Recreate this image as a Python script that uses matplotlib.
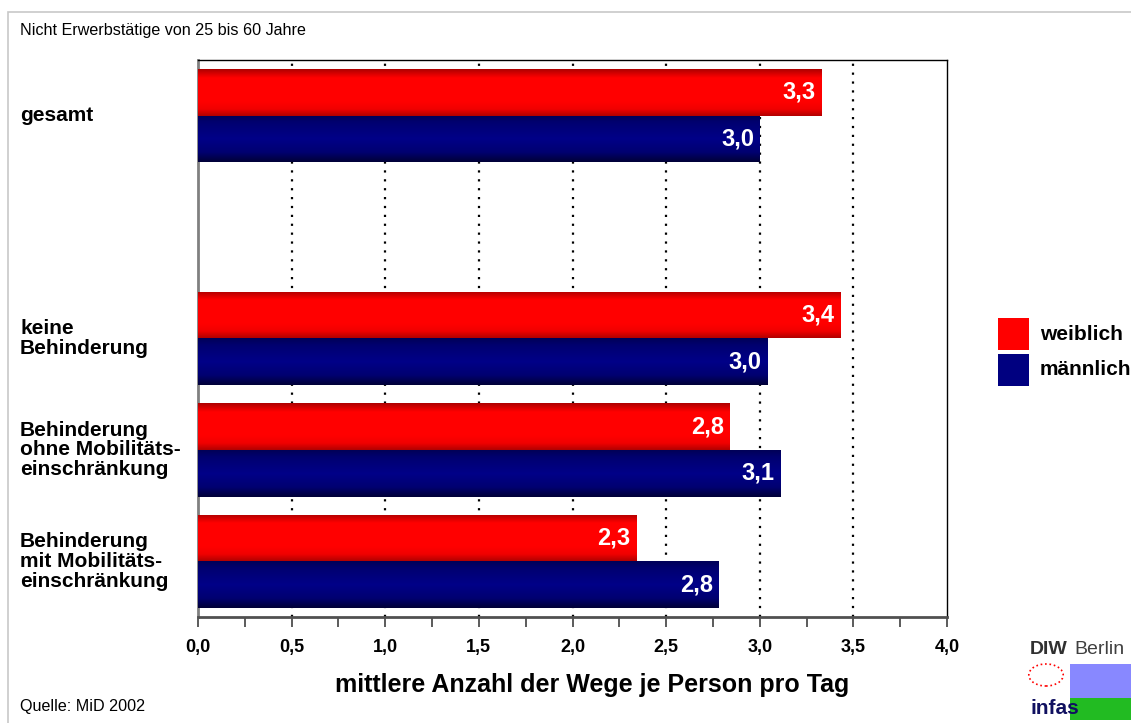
import numpy as np
import matplotlib
matplotlib.use("Agg")
import matplotlib.pyplot as plt
from matplotlib.colors import LinearSegmentedColormap
from matplotlib.patches import Rectangle

# --- data ---
categories = ["gesamt", "keine\nBehinderung", "Behinderung\nohne Mobilitäts-\neinschränkung",
              "Behinderung\nmit Mobilitäts-\neinschränkung"]
weiblich = [3.33, 3.43, 2.84, 2.34]
maennlich = [3.00, 3.04, 3.11, 2.78]
series_names = ["weiblich", "männlich"]
xticks = [0.0, 0.5, 1.0, 1.5, 2.0, 2.5, 3.0, 3.5, 4.0]
subtitle = "Nicht Erwerbstätige von 25 bis 60 Jahre"
source = "Quelle: MiD 2002"
xlabel = "mittlere Anzahl der Wege je Person pro Tag"

FONT = ["Liberation Sans", "DejaVu Sans"]
plt.rcParams["font.family"] = FONT

RED = "#ff0000"
BLUE = "#000080"
red_cmap = LinearSegmentedColormap.from_list(
    "red3d", [(0, "#b40000"), (0.14, "#f00000"), (0.3, "#ff0000"), (0.82, "#ff0000"), (1, "#b00000")])
blue_cmap = LinearSegmentedColormap.from_list(
    "blue3d", [(0, "#000038"), (0.2, "#000070"), (0.5, "#000088"), (0.85, "#000070"), (1, "#000058")])

W, H = 1131, 723
fig = plt.figure(figsize=(W / 100, H / 100), dpi=100)

# outer frame
fig.patches.append(Rectangle((8 / W, -0.02), 1.05, 1 - 12 / H + 0.02, transform=fig.transFigure,
                             fill=False, edgecolor="#c8c8c8", linewidth=1.2))

ax = fig.add_axes([198 / W, 1 - 617 / H, 749 / W, 557 / H])

# slot layout: gesamt at top, one empty slot, then the three groups
slots = [4, 2, 1, 0]
bar_h = 0.42
gradient = np.linspace(0, 1, 64).reshape(-1, 1)


def shaded_bar(y_center, value, cmap, color):
    bar = ax.barh(y_center, value, height=bar_h, color=color, linewidth=0, zorder=2)[0]
    im = ax.imshow(gradient, extent=(0, value, y_center - bar_h / 2, y_center + bar_h / 2),
                   origin="lower", aspect="auto", cmap=cmap, zorder=3)
    im.set_clip_path(bar)


def fmt(v):
    return f"{v:.1f}".replace(".", ",")


for pos, w, m in zip(slots, weiblich, maennlich):
    shaded_bar(pos + bar_h / 2, w, red_cmap, RED)
    shaded_bar(pos - bar_h / 2, m, blue_cmap, BLUE)
    ax.text(w - 0.03, pos + bar_h / 2, fmt(w), color="white",
            ha="right", va="center", fontsize=17, fontweight="bold", zorder=5)
    ax.text(m - 0.03, pos - bar_h / 2, fmt(m), color="white",
            ha="right", va="center", fontsize=17, fontweight="bold", zorder=5)

ax.set_xlim(0, 4)
ax.set_ylim(-0.5, 4.5)
ax.set_aspect("auto")

# dotted vertical gridlines
for x in xticks[1:-1]:
    ax.axvline(x, color="black", linestyle=(0, (1, 3)), linewidth=1.6, zorder=1)

ax.set_xticks(xticks)
ax.set_xticklabels([fmt(t) for t in xticks], fontsize=13, fontweight="bold")
ax.set_xticks(np.arange(0.25, 4.0, 0.5), minor=True)
ax.tick_params(axis="x", which="both", direction="out", length=7, width=1.2, color="#404040", pad=9)
ax.set_yticks([])

for side in ("top", "right"):
    ax.spines[side].set_color("black")
    ax.spines[side].set_linewidth(1.0)
ax.spines["left"].set_color("#808080")
ax.spines["left"].set_linewidth(2.0)
ax.spines["bottom"].set_color("#505050")
ax.spines["bottom"].set_linewidth(2.0)

ax.set_xlabel(xlabel, fontsize=18, fontweight="bold", labelpad=12)
ax.xaxis.label.set_x((592 - 198) / 749)

# category labels on the left
for pos, label in zip(slots, categories):
    y_fig = ax.transData.transform((0, pos))[1]
    fig.text(20 / W, y_fig / H, label, ha="left", va="center", fontsize=15,
             fontweight="bold", linespacing=1.05)

# legend
for i, (name, color) in enumerate(zip(series_names, [RED, BLUE])):
    top = 318 + i * 36
    fig.patches.append(Rectangle((998 / W, 1 - (top + 32) / H), 31 / W, 32 / H,
                                 transform=fig.transFigure, facecolor=color, edgecolor="none"))
    fig.text(1040 / W, 1 - (top + 16) / H, name, ha="left", va="center", fontsize=15,
             fontweight="bold")

fig.text(20 / W, 1 - 30 / H, subtitle, ha="left", va="center", fontsize=11.6)
fig.text(20 / W, 1 - 706 / H, source, ha="left", va="center", fontsize=11.6)

# logo approximation
fig.text(1030 / W, 1 - 650 / H, "DIW", ha="left", va="center", fontsize=14,
         fontweight="bold", color="#303030")
fig.text(1074 / W, 1 - 650 / H, "Berlin", ha="left", va="center", fontsize=14, color="#404040")
fig.patches.append(Rectangle((1070 / W, 1 - 720 / H), 61 / W, 56 / H, transform=fig.transFigure,
                             facecolor="#8888ff", edgecolor="none"))
fig.patches.append(Rectangle((1070 / W, 1 - 720 / H), 61 / W, 22 / H, transform=fig.transFigure,
                             facecolor="#22bb22", edgecolor="none"))
fig.text(1031 / W, 1 - 708 / H, "infas", ha="left", va="center", fontsize=15,
         fontweight="bold", color="#101060")
fig.patches.append(plt.Circle((1046 / W, 1 - 675 / H), 11 / H, transform=fig.transFigure,
                              fill=False, edgecolor="red", linestyle=":", linewidth=1.2))

fig.savefig("out.png", dpi=100)
